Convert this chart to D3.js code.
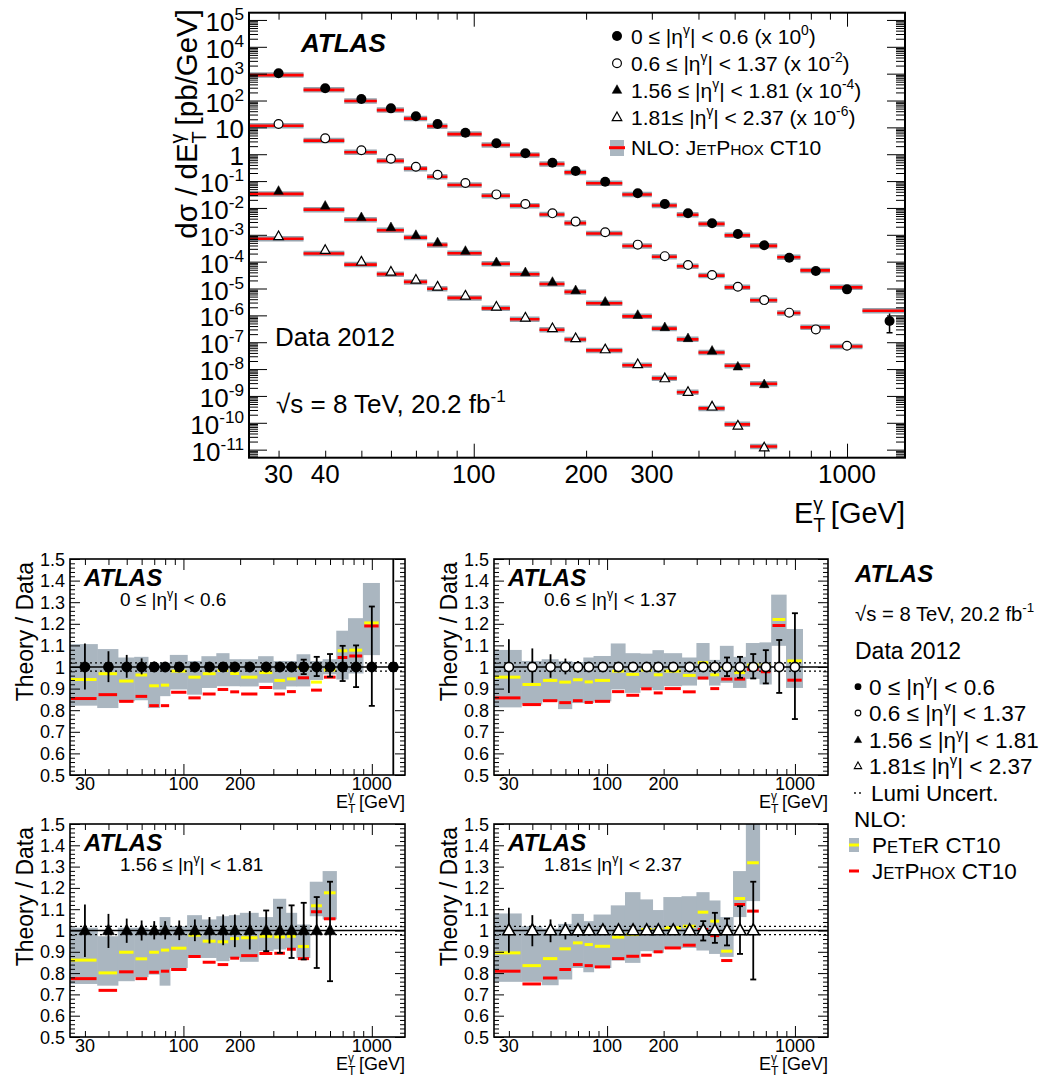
<!DOCTYPE html>
<html><head><meta charset="utf-8">
<script src="https://cdn.jsdelivr.net/npm/d3@7"></script>
<style>
body{margin:0;background:#fff;}
svg{display:block;font-family:"Liberation Sans",Arial,Helvetica,sans-serif;}
</style>
</head><body>
<svg id="chart" width="1060" height="1080"></svg>
<script>
// ------------------------------------------------------------------ DATA
const binEdges   = [25,35,45,55,65,75,85,105,125,150,175,200,250,300,350,400,470,550,650,750,900,1100,1500];
const binCenters = [30,40,50,60,70,80,95,115,137.5,162.5,187.5,225,275,325,375,435,510,600,700,825,1000,1300];

// measured cross sections dσ/dE_T (pb/GeV), per |η| region (unscaled)
const xsRegion1 = [1035,286,114,51,25.9,13.4,6.35,2.56,1.08,0.48,0.238,0.095,0.035,0.014,0.0063,0.00268,0.00107,4.06e-4,1.4e-4,4.5e-5,9.3e-6,6.2e-7];
const xsRegion2 = [1340,390,140,68,34.4,17.3,8.5,3.2,1.4,0.63,0.31,0.124,0.043,0.016,0.0075,0.0032,0.00117,3.7e-4,1.26e-4,3.0e-5,7.4e-6];
const xsRegion3 = [430,120,45,19,9.8,5.2,2.5,0.95,0.40,0.175,0.086,0.032,0.0103,0.0036,0.0014,4.8e-4,1.23e-4,2.7e-5];
const xsRegion4 = [880,270,100,42,21,11.7,5.4,2.1,0.82,0.33,0.14,0.054,0.015,0.0045,0.0014,4.0e-4,7.8e-5,1.2e-5];
const displayExponents = [0,-2,-4,-6];

// Theory / Data ratios
const jetphoxRatio1 = [0.854,0.872,0.841,0.864,0.821,0.821,0.883,0.857,0.875,0.896,0.885,0.875,0.905,0.875,0.886,0.95,0.893,0.953,1.044,1.051,1.19,2.4];
const peterRatio1   = [0.942,0.969,0.935,0.963,0.913,0.916,0.981,0.953,0.969,0.984,0.97,0.953,0.974,0.938,0.945,0.997,0.93,0.986,1.075,1.078,1.204,null];
const peterHi1      = [1.106,1.083,1.044,1.047,1.008,1.02,1.056,1.028,1.05,1.064,1.036,1.036,1.05,1.028,1.028,1.059,1.028,1.036,1.168,1.226,1.389,null];
const peterLo1      = [0.821,0.81,0.841,0.846,0.81,0.865,0.896,0.872,0.903,0.911,0.911,0.91,0.927,0.896,0.91,0.91,0.94,0.966,0.942,0.97,1.055,null];
const dataErrHi1    = [1.109,1.073,1.056,1.04,1.025,1.02,1.012,1.01,1.01,1.01,1.01,1.01,1.01,1.012,1.015,1.034,1.047,1.06,1.098,1.1,1.28,1.9];
const dataErrLo1    = [0.896,0.93,0.95,0.966,0.977,0.98,0.988,0.99,0.99,0.99,0.99,0.99,0.99,0.988,0.985,0.967,0.958,0.955,0.935,0.907,0.82,0.36];

const jetphoxRatio2 = [0.857,0.826,0.844,0.835,0.844,0.836,0.841,0.886,0.869,0.899,0.88,0.9,0.885,0.949,0.9,0.944,0.944,0.989,0.978,1.192,0.939];
const peterRatio2   = [0.953,0.919,0.938,0.93,0.941,0.931,0.938,0.981,0.966,0.986,0.964,0.981,0.961,1.02,0.964,0.997,0.974,1.009,1.009,1.22,1.028];
const peterHi2      = [1.079,1.028,1.036,1.028,1.023,1.044,1.051,1.109,1.064,1.062,1.078,1.064,1.044,1.111,1.033,1.098,1.047,1.111,1.114,1.335,1.176];
const peterLo2      = [0.813,0.826,0.841,0.805,0.833,0.833,0.841,0.896,0.88,0.903,0.893,0.911,0.914,0.942,0.914,0.927,0.903,0.945,0.919,1.098,0.903];
const dataErrHi2    = [1.129,1.086,1.059,1.039,1.028,1.02,1.012,1.01,1.01,1.01,1.01,1.01,1.01,1.012,1.031,1.044,1.047,1.06,1.078,1.125,1.249];
const dataErrLo2    = [0.88,0.927,0.95,0.966,0.974,0.98,0.988,0.99,0.99,0.99,0.99,0.99,0.99,0.988,0.969,0.958,0.95,0.947,0.924,0.88,0.759];

const jetphoxRatio3 = [0.774,0.719,0.806,0.774,0.804,0.809,0.817,0.878,0.851,0.84,0.87,0.882,0.892,0.893,0.912,0.868,1.088,1.055];
const peterRatio3   = [0.861,0.801,0.898,0.867,0.898,0.908,0.917,0.978,0.95,0.947,0.962,0.966,0.973,0.97,0.973,0.925,1.116,1.177];
const peterHi3      = [1.013,0.973,1.013,1.013,1.005,1.063,1.02,1.072,1.052,1.067,1.072,1.083,1.063,1.149,1.083,1.028,1.229,1.279];
const peterLo3      = [0.749,0.741,0.762,0.781,0.793,0.741,0.824,0.871,0.871,0.856,0.871,0.853,0.903,0.911,0.918,0.871,1.067,1.052];
const dataErrHi3    = [1.122,1.078,1.056,1.047,1.044,1.044,1.047,1.052,1.063,1.075,1.075,1.091,1.094,1.107,1.118,1.13,1.157,1.229];
const dataErrLo3    = [0.876,0.918,0.942,0.953,0.958,0.958,0.955,0.95,0.939,0.931,0.922,0.911,0.903,0.895,0.871,0.864,0.824,0.762];

const jetphoxRatio4 = [0.809,0.749,0.777,0.817,0.84,0.835,0.829,0.868,0.879,0.884,0.9,0.918,0.931,1.005,0.976,0.859,1.122,1.091];
const peterRatio4   = [0.895,0.835,0.868,0.914,0.942,0.934,0.926,0.969,0.981,1.005,1.005,1.013,1.02,1.086,1.044,0.903,1.15,1.318];
const peterHi4      = [1.08,1.02,1.009,1.031,1.078,1.044,1.075,1.118,1.18,1.146,1.096,1.157,1.161,1.18,1.141,1.063,1.279,1.52];
const peterLo4      = [0.759,0.759,0.743,0.77,0.824,0.804,0.824,0.859,0.848,0.903,0.895,0.915,0.918,0.906,0.89,0.876,1.063,1.138];
const dataErrHi4    = [1.107,1.072,1.052,1.039,1.028,1.024,1.015,1.012,1.012,1.02,1.012,1.012,1.015,1.044,1.083,1.056,1.114,1.229];
const dataErrLo4    = [0.895,0.926,0.945,0.958,0.97,0.976,0.985,0.988,0.988,0.98,0.988,0.988,0.985,0.953,0.942,0.93,0.89,0.77];

const lumiUnc = 0.019;

// tick labels
const topYDecades  = [5,4,3,2,1,0,-1,-2,-3,-4,-5,-6,-7,-8,-9,-10,-11];
const topXLabels   = [30,40,100,200,300,1000];
const ratioXLabels = [30,100,200,1000];
const ratioYLabels = ["0.5","0.6","0.7","0.8","0.9","1","1.1","1.2","1.3","1.4","1.5"];

// region label pieces
const regionLabels = [
  ["0 ≤ |η",["γ","sup"],"| < 0.6"],
  ["0.6 ≤ |η",["γ","sup"],"| < 1.37"],
  ["1.56 ≤ |η",["γ","sup"],"| < 1.81"],
  ["1.81≤ |η",["γ","sup"],"| < 2.37"]
];
const scaleLabels = [
  [" (x 10",["0","sup"],")"],
  [" (x 10",["-2","sup"],")"],
  [" (x 10",["-4","sup"],")"],
  [" (x 10",["-6","sup"],")"]
];
const markerKinds = ["fc","oc","ft","ot"];

// ------------------------------------------------------------------ HELPERS
const RED = "#ff0000", YELLOW = "#ffff00", GREY = "#aab6c0", GREY_TOP = "#98a4ae";
const svg = d3.select("#chart");
svg.append("rect").attr("width",1060).attr("height",1080).attr("fill","#fff");

function rich(t, parts, fs) {
  let shift = 0, lastLen = 0;
  parts.forEach(p => {
    const str = typeof p === "string" ? p : p[0];
    const kind = typeof p === "string" ? "n" : p[1];
    let target = 0, size = fs, dx = 0;
    if (kind === "sup") { target = -0.42*fs; size = 0.66*fs; }
    else if (kind === "sub") { target = 0.3*fs; size = 0.68*fs; }
    else if (kind === "stack") { target = -0.45*fs; size = 0.66*fs; dx = -lastLen; }
    else if (kind === "sc") { size = 0.74*fs; }
    const ts = t.append("tspan").attr("font-size", size).text(str);
    if (target - shift !== 0) ts.attr("dy", target - shift);
    if (dx) ts.attr("dx", dx);
    shift = target;
    lastLen = ts.node().getComputedTextLength();
  });
  return t;
}

function marker(g, kind, cx, cy, r, sw) {
  if (kind === "fc" || kind === "oc") {
    g.append("circle").attr("cx",cx).attr("cy",cy).attr("r", kind==="oc" ? r - sw/2 : r)
      .attr("fill", kind==="fc" ? "#000" : "#fff").attr("stroke","#000").attr("stroke-width", kind==="oc"? sw : 0);
  } else {
    const h = r;
    const pts = [[cx, cy-1.1*h],[cx+h, cy+0.7*h],[cx-h, cy+0.7*h]];
    g.append("path").attr("d","M"+pts.map(p=>p.join(",")).join("L")+"Z")
      .attr("fill", kind==="ft" ? "#000" : "#fff").attr("stroke","#000")
      .attr("stroke-width", kind==="ot" ? sw : 0.5).attr("stroke-linejoin","miter");
  }
}

function ticks(g, axisFn, scale, values, len, tx, ty) {
  const a = axisFn(scale).tickValues(values).tickSize(-len).tickFormat("");
  const gg = g.append("g").attr("transform", `translate(${tx},${ty})`).call(a);
  gg.select(".domain").remove();
  gg.selectAll(".tick line").attr("stroke","#000").attr("stroke-width",1);
}

function logMinor(lo, hi) {
  const out = [];
  for (let d = Math.floor(Math.log10(lo)) - 1; d <= Math.ceil(Math.log10(hi)); d++)
    for (let m = 2; m <= 9; m++) { const v = m * Math.pow(10, d); if (v > lo && v < hi) out.push(v); }
  return out;
}

// ------------------------------------------------------------------ TOP PANEL
const T = {x0:249, x1:905, y0:12.7, y1:457.7};
const xTop = d3.scaleLog().domain([25,1430]).range([T.x0, T.x1]);
const yTop = d3.scaleLog().domain([Math.pow(10,-11.3), Math.pow(10,5.27)]).range([T.y1, T.y0]);
const gTop = svg.append("g");
svg.append("defs").append("clipPath").attr("id","clipTop").append("rect")
  .attr("x",T.x0).attr("y",T.y0).attr("width",T.x1-T.x0).attr("height",T.y1-T.y0);
const gTopIn = gTop.append("g").attr("clip-path","url(#clipTop)");

const topXs = [xsRegion1, xsRegion2, xsRegion3, xsRegion4];
const topRatios = [jetphoxRatio1, jetphoxRatio2, jetphoxRatio3, jetphoxRatio4];
const topErrHi = [dataErrHi1, dataErrHi2, dataErrHi3, dataErrHi4];
const topErrLo = [dataErrLo1, dataErrLo2, dataErrLo3, dataErrLo4];

// NLO bars (theory = data x JetPhox/Data)
topXs.forEach((xs, s) => {
  const f = Math.pow(10, displayExponents[s]);
  xs.forEach((v, i) => {
    const yy = yTop(v * f * topRatios[s][i]);
    const xa = xTop(binEdges[i]), xb = xTop(binEdges[i+1]);
    gTopIn.append("line").attr("x1",xa).attr("x2",xb).attr("y1",yy).attr("y2",yy)
      .attr("stroke",GREY_TOP).attr("stroke-width",5.5);
    gTopIn.append("line").attr("x1",xa).attr("x2",xb).attr("y1",yy).attr("y2",yy)
      .attr("stroke",RED).attr("stroke-width",2.6);
  });
});
// data points
topXs.forEach((xs, s) => {
  const f = Math.pow(10, displayExponents[s]);
  xs.forEach((v, i) => {
    const cx = xTop(binCenters[i]);
    const ya = yTop(v*f*topErrHi[s][i]), yb = yTop(v*f*topErrLo[s][i]);
    gTopIn.append("line").attr("x1",cx).attr("x2",cx).attr("y1",ya).attr("y2",yb).attr("stroke","#000").attr("stroke-width",1.5);
    if (yb - ya > 12) {
      gTopIn.append("line").attr("x1",cx-3).attr("x2",cx+3).attr("y1",yb).attr("y2",yb).attr("stroke","#000").attr("stroke-width",1.5);
    }
    marker(gTopIn, markerKinds[s], cx, yTop(v*f), markerKinds[s][1]==="c" ? 5 : 4.8, 1.2);
  });
});

// frame + ticks
gTop.append("rect").attr("x",T.x0).attr("y",T.y0).attr("width",T.x1-T.x0).attr("height",T.y1-T.y0)
  .attr("fill","none").attr("stroke","#000").attr("stroke-width",2);
const topMajY = topYDecades.map(d => Math.pow(10,d));
const topMinY = logMinor(Math.pow(10,-11.3), Math.pow(10,5.27));
ticks(gTop, d3.axisLeft, yTop, topMajY, 18, T.x0, 0);
ticks(gTop, d3.axisLeft, yTop, topMinY, 9, T.x0, 0);
ticks(gTop, d3.axisRight, yTop, topMajY, 18, T.x1, 0);
ticks(gTop, d3.axisRight, yTop, topMinY, 9, T.x1, 0);
const topMajX = [100,1000], topMinX = logMinor(25,1430).filter(v => v !== 100 && v !== 1000);
ticks(gTop, d3.axisBottom, xTop, topMajX, 14, 0, T.y1);
ticks(gTop, d3.axisBottom, xTop, topMinX, 7, 0, T.y1);
ticks(gTop, d3.axisTop, xTop, topMajX, 14, 0, T.y0);
ticks(gTop, d3.axisTop, xTop, topMinX, 7, 0, T.y0);

// y tick labels
topYDecades.forEach(d => {
  const yy = yTop(Math.pow(10,d)) + 11;
  const t = gTop.append("text").attr("x",244).attr("y",yy).attr("text-anchor","end").attr("font-size",26);
  if (d === 0) t.text("1");
  else if (d === 1) t.text("10");
  else rich(t, ["10", [String(d), "sup"]], 26);
});
topXLabels.forEach(v => {
  gTop.append("text").attr("x", xTop(v)).attr("y", 483).attr("text-anchor","middle").attr("font-size",26).text(v);
});
rich(gTop.append("text").attr("x",T.x1).attr("y",523).attr("text-anchor","end").attr("font-size",29),
  ["E",["T","sub"],["γ","stack"]," [GeV]"], 29);
rich(gTop.append("text").attr("transform","translate(197,9) rotate(-90)").attr("text-anchor","end").attr("font-size",29.5),
  ["dσ / dE",["T","sub"],["γ","stack"]," [pb/GeV]"], 29.5);

// texts
gTop.append("text").attr("x",301).attr("y",52).attr("font-size",26).attr("font-weight","bold").attr("font-style","italic").text("ATLAS");
gTop.append("text").attr("x",275).attr("y",345.5).attr("font-size",26).text("Data 2012");
rich(gTop.append("text").attr("x",276).attr("y",412.5).attr("font-size",26), ["√s = 8 TeV, 20.2 fb",["-1","sup"]], 26);

// legend
const legRowsY = [36, 63.3, 90, 117.3];
legRowsY.forEach((ry, s) => {
  marker(gTop, markerKinds[s], 617, ry, markerKinds[s][1]==="c" ? 5 : 4.8, 1.2);
  rich(gTop.append("text").attr("x",631).attr("y",ry+7.5).attr("font-size",21),
    regionLabels[s].concat(scaleLabels[s]), 21);
});
gTop.append("rect").attr("x",610).attr("y",140).attr("width",14).attr("height",16).attr("fill",GREY);
gTop.append("line").attr("x1",609).attr("x2",625).attr("y1",147.7).attr("y2",147.7).attr("stroke",RED).attr("stroke-width",3);
rich(gTop.append("text").attr("x",631).attr("y",155.2).attr("font-size",21),
  ["NLO: J",["ET","sc"],"P",["HOX","sc"]," CT10"], 21);

// ------------------------------------------------------------------ RATIO PANELS
const ratioXDomain = [25,1500];
const panels = [
  {x0:70,  x1:405, y0:559, y1:775,  xs:xsRegion1, red:jetphoxRatio1, yel:peterRatio1, hi:peterHi1, lo:peterLo1, eh:dataErrHi1, el:dataErrLo1, capsFrom:15},
  {x0:494, x1:828, y0:559, y1:775,  xs:xsRegion2, red:jetphoxRatio2, yel:peterRatio2, hi:peterHi2, lo:peterLo2, eh:dataErrHi2, el:dataErrLo2, capsFrom:15},
  {x0:70,  x1:405, y0:824, y1:1037, xs:xsRegion3, red:jetphoxRatio3, yel:peterRatio3, hi:peterHi3, lo:peterLo3, eh:dataErrHi3, el:dataErrLo3, capsFrom:12},
  {x0:494, x1:828, y0:824, y1:1037, xs:xsRegion4, red:jetphoxRatio4, yel:peterRatio4, hi:peterHi4, lo:peterLo4, eh:dataErrHi4, el:dataErrLo4, capsFrom:13}
];

panels.forEach((p, k) => {
  const x = d3.scaleLog().domain(ratioXDomain).range([p.x0, p.x1]);
  const y = d3.scaleLinear().domain([0.5,1.5]).range([p.y1, p.y0]);
  const g = svg.append("g");
  svg.select("defs").append("clipPath").attr("id","clipR"+k).append("rect")
    .attr("x",p.x0).attr("y",p.y0).attr("width",p.x1-p.x0).attr("height",p.y1-p.y0);
  const gi = g.append("g").attr("clip-path",`url(#clipR${k})`);
  const n = p.xs.length;
  // PeTeR uncertainty band
  for (let i = 0; i < n; i++) {
    if (p.hi[i] == null) continue;
    gi.append("rect").attr("x", x(binEdges[i]) - 0.3).attr("width", x(binEdges[i+1]) - x(binEdges[i]) + 0.6)
      .attr("y", y(p.hi[i])).attr("height", y(p.lo[i]) - y(p.hi[i])).attr("fill", GREY);
  }
  for (let i = 0; i < n; i++) {
    if (p.yel[i] != null)
      gi.append("line").attr("x1",x(binEdges[i])+1).attr("x2",x(binEdges[i+1])-1).attr("y1",y(p.yel[i])).attr("y2",y(p.yel[i]))
        .attr("stroke",YELLOW).attr("stroke-width",3);
    gi.append("line").attr("x1",x(binEdges[i])+1).attr("x2",x(binEdges[i+1])-1).attr("y1",y(p.red[i])).attr("y2",y(p.red[i]))
      .attr("stroke",RED).attr("stroke-width",3);
  }
  // reference lines
  gi.append("line").attr("x1",p.x0).attr("x2",p.x1).attr("y1",y(1)).attr("y2",y(1)).attr("stroke","#000").attr("stroke-width",1.3);
  [1+lumiUnc, 1-lumiUnc].forEach(v => gi.append("line").attr("x1",p.x0).attr("x2",p.x1).attr("y1",y(v)).attr("y2",y(v))
    .attr("stroke","#000").attr("stroke-width",1.3).attr("stroke-dasharray","2,3"));
  // data
  for (let i = 0; i < n; i++) {
    const cx = x(binCenters[i]);
    gi.append("line").attr("x1",cx).attr("x2",cx).attr("y1",y(p.eh[i])).attr("y2",y(p.el[i])).attr("stroke","#000").attr("stroke-width",1.8);
    if (i >= p.capsFrom) {
      [p.eh[i], p.el[i]].forEach(v => gi.append("line").attr("x1",cx-3).attr("x2",cx+3).attr("y1",y(v)).attr("y2",y(v)).attr("stroke","#000").attr("stroke-width",1.8));
    }
    marker(gi, markerKinds[k], cx, y(1), markerKinds[k][1]==="c" ? 5.4 : 6, 1.6);
  }
  // frame & ticks
  g.append("rect").attr("x",p.x0).attr("y",p.y0).attr("width",p.x1-p.x0).attr("height",p.y1-p.y0)
    .attr("fill","none").attr("stroke","#000").attr("stroke-width",1.6);
  const majX = [100,1000], minX = logMinor(25,1500).filter(v => v !== 100 && v !== 1000);
  ticks(g, d3.axisBottom, x, majX, 11, 0, p.y1);
  ticks(g, d3.axisBottom, x, minX, 6, 0, p.y1);
  ticks(g, d3.axisTop, x, majX, 11, 0, p.y0);
  ticks(g, d3.axisTop, x, minX, 6, 0, p.y0);
  const majY = ratioYLabels.map(Number);
  const minY = d3.range(0.52, 1.5, 0.02).filter(v => Math.abs(v*10 - Math.round(v*10)) > 0.01);
  ticks(g, d3.axisLeft, y, majY, 10, p.x0, 0);
  ticks(g, d3.axisLeft, y, minY, 5, p.x0, 0);
  ticks(g, d3.axisRight, y, majY, 10, p.x1, 0);
  ticks(g, d3.axisRight, y, minY, 5, p.x1, 0);
  ratioYLabels.forEach(s => g.append("text").attr("x",p.x0-5).attr("y",y(+s)+6.5).attr("text-anchor","end").attr("font-size",18).text(s));
  ratioXLabels.forEach(v => g.append("text").attr("x",x(v)).attr("y",p.y1+15).attr("text-anchor","middle").attr("font-size",18).text(v));
  rich(g.append("text").attr("x",p.x1).attr("y",p.y1+33).attr("text-anchor","end").attr("font-size",18),
    ["E",["T","sub"],["γ","stack"]," [GeV]"], 18);
  g.append("text").attr("transform",`translate(${p.x0-37},${p.y0+3}) rotate(-90)`).attr("text-anchor","end")
    .attr("font-size",23).text("Theory / Data");
  g.append("text").attr("x",p.x0+14).attr("y",p.y0+27).attr("font-size",24).attr("font-weight","bold").attr("font-style","italic").text("ATLAS");
  rich(g.append("text").attr("x",p.x0+50).attr("y",p.y0+47).attr("font-size",19), regionLabels[k], 19);
});

// ------------------------------------------------------------------ RIGHT LEGEND
const L = svg.append("g");
L.append("text").attr("x",855).attr("y",581.5).attr("font-size",24).attr("font-weight","bold").attr("font-style","italic").text("ATLAS");
rich(L.append("text").attr("x",855).attr("y",621).attr("font-size",20.3), ["√s = 8 TeV, 20.2 fb",["-1","sup"]], 20.3);
L.append("text").attr("x",855).attr("y",659).attr("font-size",23).text("Data 2012");
const rlRows = [686.7, 713, 740, 766];
rlRows.forEach((ry, s) => {
  marker(L, markerKinds[s], 858, ry, markerKinds[s][1]==="c" ? 3.4 : 3.7, 1.1);
  rich(L.append("text").attr("x",869).attr("y",ry+8).attr("font-size",22.5), regionLabels[s], 22.5);
});
[855, 860].forEach(cx => L.append("circle").attr("cx",cx).attr("cy",793).attr("r",0.9).attr("fill","#000"));
L.append("text").attr("x",871).attr("y",800.5).attr("font-size",22.5).text("Lumi Uncert.");
L.append("text").attr("x",854).attr("y",826.5).attr("font-size",22.5).text("NLO:");
L.append("rect").attr("x",849).attr("y",838).attr("width",10).attr("height",14).attr("fill",GREY);
L.append("line").attr("x1",849).attr("x2",859).attr("y1",845).attr("y2",845).attr("stroke",YELLOW).attr("stroke-width",3);
rich(L.append("text").attr("x",872).attr("y",853).attr("font-size",22.5), ["P",["E","sc"],"T",["E","sc"],"R CT10"], 22.5);
L.append("line").attr("x1",849).attr("x2",859).attr("y1",871).attr("y2",871).attr("stroke",RED).attr("stroke-width",3);
rich(L.append("text").attr("x",872).attr("y",879).attr("font-size",22.5), ["J",["ET","sc"],"P",["HOX","sc"]," CT10"], 22.5);
</script>
</body></html>
